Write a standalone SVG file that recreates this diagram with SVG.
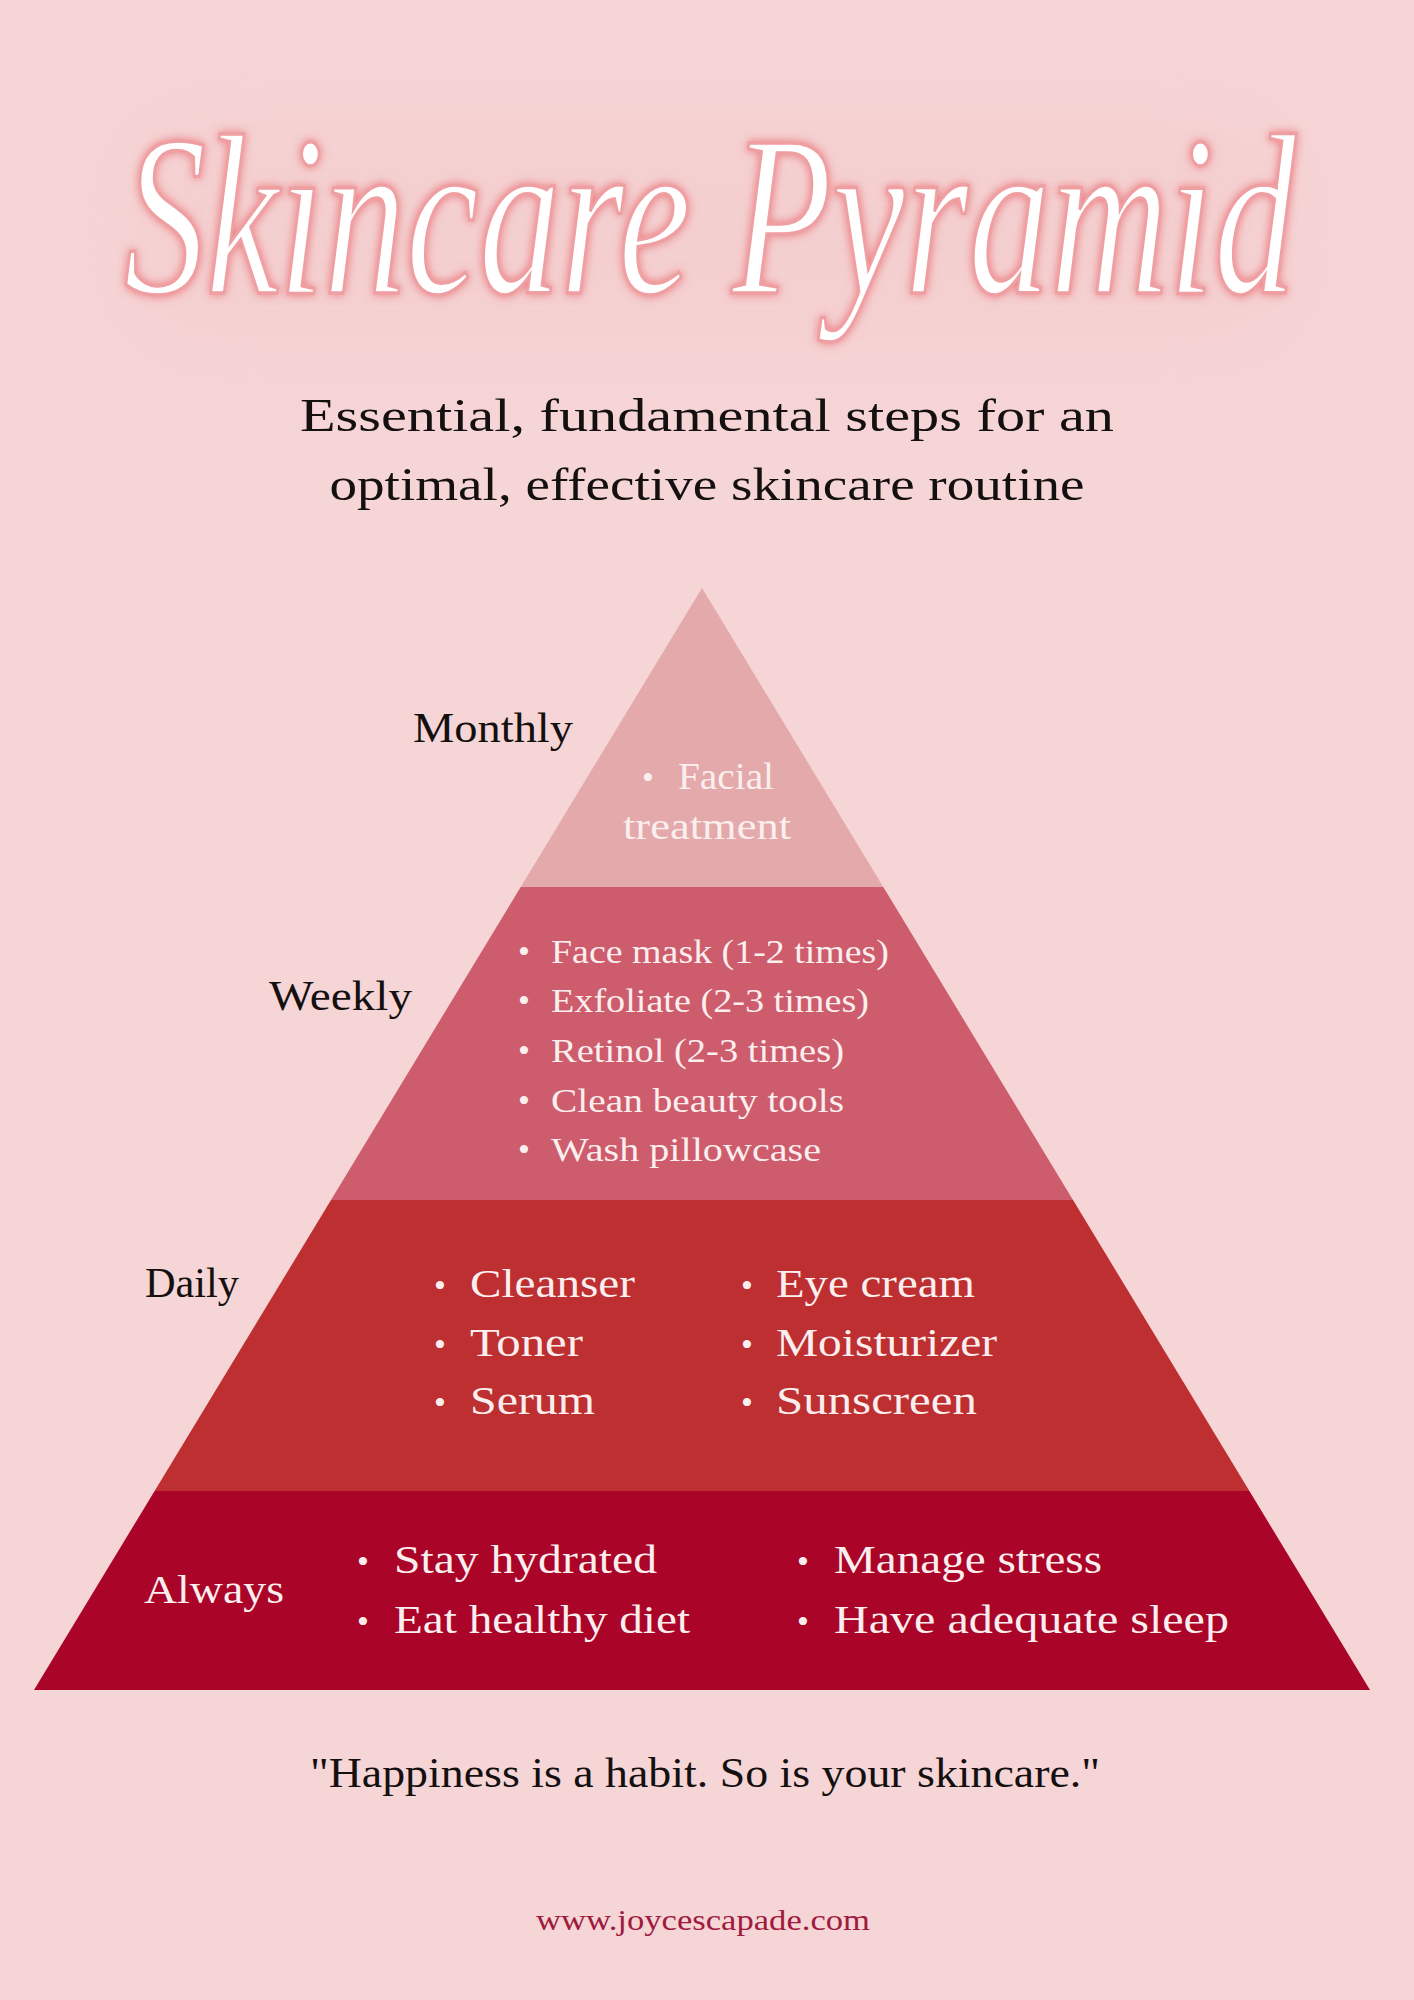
<svg xmlns="http://www.w3.org/2000/svg" width="1414" height="2000" viewBox="0 0 1414 2000">
  <defs>
    <style>
      .serif { font-family: 'Liberation Serif', 'DejaVu Serif', serif; }
      .lbl { font-size: 42px; fill: #151010; }
      .sub { font-size: 47px; fill: #151010; }
      .w { fill: #FBEEEE; }
      .wk { font-size: 34px; }
      .dl { font-size: 41px; }
      .bul { font-size: 34px; text-anchor: middle; }
    </style>
    <filter id="glow" x="-20%" y="-60%" width="140%" height="220%">
      <feGaussianBlur in="SourceAlpha" stdDeviation="5" result="b"/>
      <feFlood flood-color="#E86C70" flood-opacity="0.85"/>
      <feComposite operator="in" in2="b" result="g"/>
      <feMerge>
        <feMergeNode in="g"/>
        <feMergeNode in="SourceGraphic"/>
      </feMerge>
    </filter>
    <filter id="soft" x="-20%" y="-50%" width="140%" height="200%">
      <feGaussianBlur stdDeviation="40"/>
    </filter>
  </defs>

  <rect id="background" x="0" y="0" width="1414" height="2000" fill="#F6D5D6"/>
  <rect x="120" y="110" width="1180" height="240" rx="80" fill="#F3C9CA" opacity="0.45" filter="url(#soft)"/>

  <g id="title">
    <text class="serif" x="124" y="293" font-size="228" font-style="italic" fill="#FFFFFF" stroke="#EF9FA2" stroke-width="3.5" filter="url(#glow)" textLength="1172" lengthAdjust="spacingAndGlyphs">Skincare  Pyramid</text>
  </g>

  <g id="subtitle" class="serif sub" text-anchor="middle">
    <text x="707" y="431" textLength="814" lengthAdjust="spacingAndGlyphs">Essential, fundamental steps for an</text>
    <text x="707" y="500" textLength="755" lengthAdjust="spacingAndGlyphs">optimal, effective skincare routine</text>
  </g>

  <g id="connectors"></g>

  <g id="tier-monthly">
    <polygon points="702,588 883.3,887 520.7,887" fill="#E4A9AA"/>
    <text class="serif lbl" x="413" y="742" textLength="160" lengthAdjust="spacingAndGlyphs">Monthly</text>
    <text class="serif w bul" x="648" y="789">•</text>
    <text class="serif w" font-size="38" x="678" y="789" textLength="96" lengthAdjust="spacingAndGlyphs">Facial</text>
    <text class="serif w" font-size="38" x="623" y="839" textLength="168" lengthAdjust="spacingAndGlyphs">treatment</text>
  </g>

  <g id="tier-weekly">
    <polygon points="520.7,887 883.3,887 1073,1200 331,1200" fill="#CD5C6C"/>
    <text class="serif lbl" x="269" y="1010" textLength="143" lengthAdjust="spacingAndGlyphs">Weekly</text>
    <g class="serif w">
      <text class="bul" font-size="30" x="524" y="963">•</text>
      <text class="bul" font-size="30" x="524" y="1012">•</text>
      <text class="bul" font-size="30" x="524" y="1062">•</text>
      <text class="bul" font-size="30" x="524" y="1112">•</text>
      <text class="bul" font-size="30" x="524" y="1161">•</text>
      <text class="wk" x="551" y="963" textLength="338" lengthAdjust="spacingAndGlyphs">Face mask (1-2 times)</text>
      <text class="wk" x="551" y="1012" textLength="318" lengthAdjust="spacingAndGlyphs">Exfoliate (2-3 times)</text>
      <text class="wk" x="551" y="1062" textLength="293" lengthAdjust="spacingAndGlyphs">Retinol (2-3 times)</text>
      <text class="wk" x="551" y="1112" textLength="293" lengthAdjust="spacingAndGlyphs">Clean beauty tools</text>
      <text class="wk" x="551" y="1161" textLength="270" lengthAdjust="spacingAndGlyphs">Wash pillowcase</text>
    </g>
  </g>

  <g id="tier-daily">
    <polygon points="331,1200 1073,1200 1249.4,1491 154.6,1491" fill="#BE2F31"/>
    <text class="serif lbl" x="145" y="1297" textLength="94" lengthAdjust="spacingAndGlyphs">Daily</text>
    <g class="serif w">
      <text class="bul" x="440" y="1297">•</text>
      <text class="bul" x="440" y="1356">•</text>
      <text class="bul" x="440" y="1414">•</text>
      <text class="bul" x="747" y="1297">•</text>
      <text class="bul" x="747" y="1356">•</text>
      <text class="bul" x="747" y="1414">•</text>
      <text class="dl" x="470" y="1297" textLength="165" lengthAdjust="spacingAndGlyphs">Cleanser</text>
      <text class="dl" x="470" y="1356" textLength="113" lengthAdjust="spacingAndGlyphs">Toner</text>
      <text class="dl" x="470" y="1414" textLength="125" lengthAdjust="spacingAndGlyphs">Serum</text>
      <text class="dl" x="776" y="1297" textLength="199" lengthAdjust="spacingAndGlyphs">Eye cream</text>
      <text class="dl" x="776" y="1356" textLength="221" lengthAdjust="spacingAndGlyphs">Moisturizer</text>
      <text class="dl" x="776" y="1414" textLength="201" lengthAdjust="spacingAndGlyphs">Sunscreen</text>
    </g>
  </g>

  <g id="tier-always">
    <polygon points="154.6,1491 1249.4,1491 1370,1690 34,1690" fill="#AA0428"/>
    <g class="serif w">
      <text class="dl" x="144" y="1603" textLength="140" lengthAdjust="spacingAndGlyphs">Always</text>
      <text class="bul" x="363" y="1573">•</text>
      <text class="bul" x="363" y="1633">•</text>
      <text class="bul" x="803" y="1573">•</text>
      <text class="bul" x="803" y="1633">•</text>
      <text class="dl" x="394" y="1573" textLength="263" lengthAdjust="spacingAndGlyphs">Stay hydrated</text>
      <text class="dl" x="394" y="1633" textLength="296" lengthAdjust="spacingAndGlyphs">Eat healthy diet</text>
      <text class="dl" x="834" y="1573" textLength="268" lengthAdjust="spacingAndGlyphs">Manage stress</text>
      <text class="dl" x="834" y="1633" textLength="395" lengthAdjust="spacingAndGlyphs">Have adequate sleep</text>
    </g>
  </g>

  <g id="footer" class="serif">
    <text x="310" y="1787" font-size="42" fill="#151010" textLength="790" lengthAdjust="spacingAndGlyphs">"Happiness is a habit. So is your skincare."</text>
    <text x="536" y="1930" font-size="30" fill="#A01A3E" textLength="334" lengthAdjust="spacingAndGlyphs">www.joycescapade.com</text>
  </g>
</svg>
